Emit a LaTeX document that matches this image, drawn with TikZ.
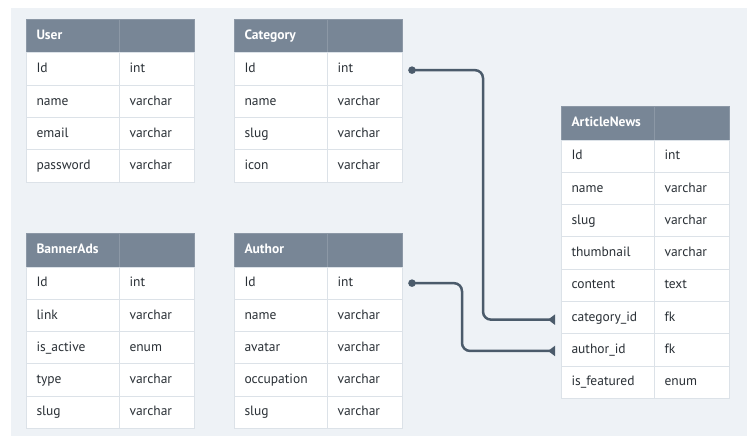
\documentclass[tikz,border=0pt]{standalone}
\usepackage{fontspec}
\setmainfont{PT Sans}
\usetikzlibrary{arrows.meta,calc}
\definecolor{bgcol}{HTML}{EEF2F6}
\definecolor{hdrcol}{HTML}{788696}
\definecolor{gridcol}{HTML}{DCE2E8}
\definecolor{txtcol}{HTML}{2A3036}
\definecolor{conncol}{HTML}{4B5B6B}
\tikzset{
  cellbase/.style={draw=gridcol, line width=1pt, minimum height=32.3pt, inner xsep=10pt, inner ysep=0pt,
    text height=9.8pt, text depth=2.6pt, align=left, font=\fontsize{13.5}{15}\selectfont, anchor=north west},
  fcell/.style={cellbase, fill=white, text=txtcol, text width=73pt},
  tcell/.style={cellbase, fill=white, text=txtcol, text width=55pt},
  hcell/.style={cellbase, fill=hdrcol, draw=hdrcol!85!white, text=white, minimum height=33.5pt, font=\fontsize{13.5}{15}\selectfont\bfseries, text width=73pt},
  hcell2/.style={hcell, text width=55pt},
  conn/.style={draw=conncol, line width=2.5pt, rounded corners=8pt},
  dot/.style={fill=conncol},
}
\newcommand\erdtable[4]{%
  \begin{scope}[shift={(#2)}]
    \node[hcell] (#1-h) at (0,0) {#3};
    \node[hcell2] (#1-h2) at (93,0) {};
    \foreach \f/\t [count=\i] in {#4} {
      \node[fcell] (#1-\i-a) at (0,{33.5+(\i-1)*32.3}) {\f};
      \node[tcell] (#1-\i-b) at (93,{33.5+(\i-1)*32.3}) {\t};
    }
  \end{scope}}
\begin{document}
\begin{tikzpicture}[x=1pt,y=-1pt]
  \useasboundingbox (0,0) rectangle (747,436);
  \fill[bgcol] (11,8) rectangle (747,436);
  \erdtable{user}{26,19}{User}{Id/int, name/varchar, email/varchar, password/varchar}
  \erdtable{cat}{234,19}{Category}{Id/int, name/varchar, slug/varchar, icon/varchar}
  \erdtable{ban}{26,233}{BannerAds}{Id/int, link/varchar, is\_active/enum, type/varchar, slug/varchar}
  \erdtable{auth}{234,233}{Author}{Id/int, name/varchar, avatar/varchar, occupation/varchar, slug/varchar}
  \erdtable{art}{561,106}{ArticleNews}{Id/int, name/varchar, slug/varchar, thumbnail/varchar, content/text, category\_id/fk, author\_id/fk, is\_featured/enum}
  % connectors
  \coordinate (c1s) at ($(cat-1-b.east)+(9,1)$);
  \coordinate (c1e) at ($(art-6-a.west)+(-6,2)$);
  \coordinate (c2s) at ($(auth-1-b.east)+(9,0)$);
  \coordinate (c2e) at ($(art-7-a.west)+(-6,1)$);
  \draw[conn, -{Triangle[reversed, length=7pt, width=10pt]}] (c1s) -- ($(c1s)+(71,0)$) |- (c1e);
  \draw[conn, -{Triangle[reversed, length=7pt, width=10pt]}] (c2s) -- ($(c2s)+(50,0)$) |- (c2e);
  \fill[dot] (c1s) circle (3.8pt);
  \fill[dot] (c2s) circle (3.8pt);
\end{tikzpicture}
\end{document}
